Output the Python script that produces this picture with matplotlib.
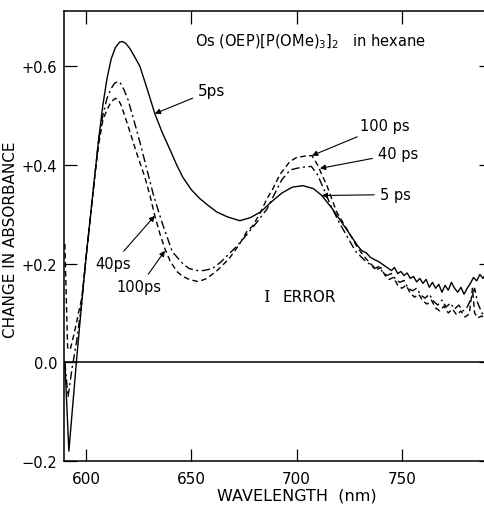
import matplotlib
matplotlib.use('Agg')
import matplotlib.pyplot as plt

# transient absorption spectra, Os(OEP)[P(OMe)3]2 in hexane
wl_5ps = [590.0, 591.9, 595.7, 598, 600, 602, 604, 606, 608, 610, 612, 614, 616, 617.5, 619,
          621, 623, 625.6, 629, 632.7, 636, 640, 643.2, 646, 650, 654, 658, 662, 667, 673,
          678, 683, 688, 693, 698, 703, 708, 712, 717, 722, 726,
          729, 731, 733, 735, 737, 739, 741, 743, 745, 746.5, 748, 749.5, 751, 752.5,
          754, 755.5, 757, 758.5, 760, 761.5, 763, 764.5, 766, 767.5, 769, 770.5, 772,
          773.5, 775, 776.5, 778, 779.5, 781, 782.5, 784, 785.5, 787, 788.5, 790, 792]
dA_5ps = [0.0, -0.18, 0.012, 0.12, 0.21, 0.29, 0.37, 0.45, 0.52, 0.575, 0.615, 0.638, 0.649, 0.65, 0.646,
          0.635, 0.62, 0.60, 0.555, 0.504, 0.468, 0.43, 0.399, 0.375, 0.35, 0.332, 0.318, 0.305, 0.295, 0.287,
          0.293, 0.305, 0.325, 0.343, 0.355, 0.358, 0.352, 0.338, 0.311, 0.28, 0.255,
          0.236, 0.226, 0.222, 0.213, 0.208, 0.204, 0.198, 0.192, 0.186, 0.192, 0.180, 0.184, 0.176, 0.181,
          0.170, 0.174, 0.163, 0.170, 0.160, 0.168, 0.152, 0.162, 0.150, 0.158, 0.142, 0.156, 0.146,
          0.162, 0.150, 0.142, 0.152, 0.138, 0.150, 0.160, 0.172, 0.165, 0.178, 0.170, 0.180, 0.175]

wl_40ps = [590.0, 591.5, 593.5, 595.5, 598, 600, 602, 604, 606, 608, 610, 612, 613.5, 615, 616.5,
           618, 620, 623, 626, 629, 632, 636, 641, 646, 649, 652.7, 656, 660, 664, 668, 672,
           676, 681, 686, 690, 693, 697, 702, 707, 710, 713, 716, 720, 724, 728,
           732, 735, 737, 739, 741, 743, 745, 747, 749, 751, 753, 755, 757, 759, 761,
           763, 765, 767, 769, 771, 773, 775, 777, 779, 781, 783, 784.5, 786, 788, 790, 792]
dA_40ps = [0.0, -0.07, -0.01, 0.04, 0.12, 0.21, 0.29, 0.37, 0.45, 0.50, 0.535, 0.555, 0.565, 0.569, 0.565,
           0.553, 0.532, 0.487, 0.44, 0.39, 0.34, 0.285, 0.224, 0.20, 0.19, 0.186, 0.186, 0.19, 0.203, 0.22, 0.237,
           0.257, 0.283, 0.311, 0.345, 0.37, 0.39, 0.395, 0.397, 0.38, 0.35, 0.32, 0.285, 0.255, 0.225,
           0.208, 0.198, 0.19, 0.194, 0.182, 0.176, 0.180, 0.168, 0.162, 0.166, 0.150, 0.145, 0.150, 0.136, 0.130,
           0.138, 0.124, 0.116, 0.126, 0.112, 0.120, 0.108, 0.116, 0.104, 0.112, 0.130, 0.150, 0.120, 0.100, 0.092, 0.088]

wl_100ps = [590.0, 591.3, 592.5, 594.5, 596.5, 598, 600, 602, 604, 606, 608, 610, 612, 614,
            615.5, 617, 619, 620.9, 624, 628, 630.4, 632.7, 635, 637.5, 640, 643.2, 646, 649, 652.7,
            655, 657.4, 662, 668, 673, 676.4, 679.3, 683, 686, 688.8, 692, 696.8, 700, 704,
            707.3, 710, 712, 714.4, 719, 725, 729,
            732, 734, 736, 738, 740, 742, 744, 746, 748, 750, 752, 754, 756, 758, 760,
            762, 764, 766, 768, 770, 772, 774, 776, 778, 780, 782, 783.5, 784.5, 786, 788, 790, 792]
dA_100ps = [0.24, 0.03, 0.025, 0.06, 0.10, 0.13, 0.21, 0.29, 0.37, 0.44, 0.49, 0.512, 0.528, 0.535,
            0.532, 0.518, 0.492, 0.467, 0.425, 0.375, 0.338, 0.297, 0.262, 0.23, 0.205, 0.184, 0.174, 0.168, 0.164,
            0.166, 0.17, 0.185, 0.21, 0.24, 0.265, 0.277, 0.305, 0.332, 0.352, 0.38, 0.407, 0.415, 0.418,
            0.419, 0.40, 0.38, 0.358, 0.305, 0.262, 0.232,
            0.215, 0.205, 0.196, 0.188, 0.192, 0.176, 0.168, 0.172, 0.156, 0.150, 0.156, 0.140, 0.132, 0.138, 0.124,
            0.118, 0.126, 0.110, 0.104, 0.114, 0.100, 0.108, 0.096, 0.104, 0.092, 0.098, 0.150, 0.100, 0.090, 0.094, 0.085, 0.082]

x_ticks = [600, 650, 700, 750]
y_ticks = [-0.2, 0.0, 0.2, 0.4, 0.6]
y_labels = ['\u22120.2', '0.0', '+0.2', '+0.4', '+0.6']

plt.rcParams['font.family'] = ['DejaVu Sans']
fig = plt.figure(figsize=(4.85, 5.06), dpi=100)
ax = fig.add_axes([0.132, 0.087, 0.8804, 0.8893])

ax.plot(wl_5ps, dA_5ps, color='k', lw=1.0, ls='-')
ax.plot(wl_40ps, dA_40ps, color='k', lw=1.0, ls=(0, (6, 2.5, 1.5, 2.5)))
ax.plot(wl_100ps, dA_100ps, color='k', lw=1.0, ls=(0, (4, 2.5)))
ax.axhline(0.0, color='k', lw=1.1)

ax.set_xlim(589.6, 792.3)
ax.set_ylim(-0.2, 0.712)
ax.set_xticks(x_ticks)
ax.set_yticks(y_ticks)
ax.set_yticklabels(y_labels)
ax.tick_params(direction='in', length=9, width=0.9, top=True, right=True,
               labelsize=10.5, pad=5)
ax.tick_params(axis='x', labelsize=11, pad=7)
for side in ['left', 'bottom', 'top']:
    ax.spines[side].set_linewidth(1.1)
ax.spines['right'].set_visible(False)

ax.set_xlabel('WAVELENGTH  (nm)', fontsize=11.5)
ax.xaxis.set_label_coords(0.546, -0.058)
ax.set_ylabel('CHANGE IN ABSORBANCE', fontsize=11)
ax.yaxis.set_label_coords(-0.107, 0.493)

ax.text(651.7, 0.652, r'Os (OEP)[P(OMe)$_3$]$_2$   in hexane', fontsize=10.5,
        va='center', ha='left')

arrow = dict(arrowstyle='-|>', color='k', lw=0.8, mutation_scale=8, shrinkA=2, shrinkB=0)
ax.annotate('5ps', xy=(632.7, 0.504), xytext=(653.2, 0.551), fontsize=11,
            va='center', ha='left', arrowprops=arrow)
ax.annotate('100 ps', xy=(707.3, 0.419), xytext=(730.0, 0.480), fontsize=10.5,
            va='center', ha='left', arrowprops=arrow)
ax.annotate('40 ps', xy=(711.1, 0.393), xytext=(738.6, 0.423), fontsize=10.5,
            va='center', ha='left', arrowprops=arrow)
ax.annotate('5 ps', xy=(712.0, 0.338), xytext=(739.5, 0.340), fontsize=10.5,
            va='center', ha='left', arrowprops=arrow)
ax.annotate('40ps', xy=(632.7, 0.297), xytext=(604.3, 0.200), fontsize=10.5,
            va='center', ha='left', arrowprops=arrow)
ax.annotate('100ps', xy=(637.5, 0.226), xytext=(614.7, 0.153), fontsize=10.5,
            va='center', ha='left', arrowprops=arrow)

ax.text(684.0, 0.133, 'I', fontsize=12, family='DejaVu Serif', va='center', ha='left')
ax.text(693.5, 0.133, 'ERROR', fontsize=11, va='center', ha='left')

plt.savefig('out.png', dpi=100)
